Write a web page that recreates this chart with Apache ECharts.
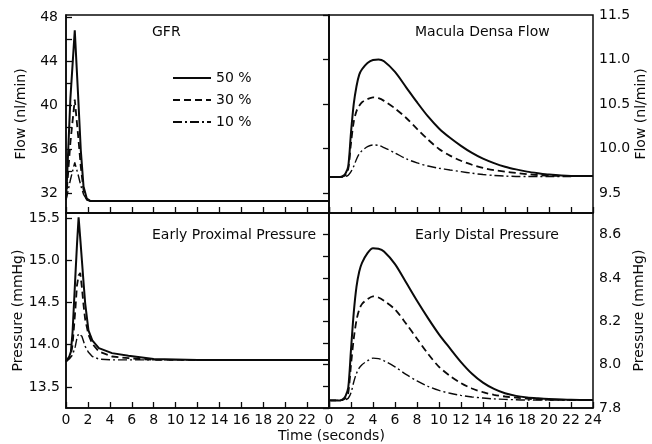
<!DOCTYPE html>
<html>
<head>
<meta charset="utf-8">
<script src="https://cdn.jsdelivr.net/npm/echarts@6/dist/echarts.min.js"></script>
<style>
  html, body { margin: 0; padding: 0; background: #fff; }
  #chart { width: 652px; height: 444px; }
</style>
</head>
<body>
<div id="chart"></div>
<script>
// Tubular response to a brief rise in filtration, for three perturbation sizes.
var seriesNames = ['50 %', '30 %', '10 %'];

// GFR (nl/min)
var gfrTime = [0, 0.1, 0.4, 0.8, 1.1, 1.35, 1.6, 1.9, 2.2, 24];
var gfr50 = [31.4, 33.5, 40.6, 46.8, 41.0, 35.9, 32.6, 31.5, 31.3, 31.3];
var gfr30 = [31.4, 32.6, 36.6, 40.5, 37.3, 34.4, 32.3, 31.4, 31.3, 31.3];
var gfr10 = [31.4, 31.8, 33.2, 34.8, 33.7, 32.7, 31.9, 31.4, 31.3, 31.3];

// Macula densa flow (nl/min)
var mdTime = [0, 1.0, 1.25, 1.5, 1.75, 2.0, 2.25, 2.5, 2.75, 3.0, 3.5, 4.0, 4.5, 5, 6, 7, 8, 9, 10, 11, 12, 13, 14, 15, 16, 17, 18, 19, 20, 22, 24];
var md50 = [9.68, 9.68, 9.69, 9.72, 9.80, 10.18, 10.50, 10.70, 10.83, 10.89, 10.96, 10.995, 11.0, 10.98, 10.86, 10.69, 10.52, 10.36, 10.225, 10.12, 10.03, 9.95, 9.885, 9.835, 9.795, 9.765, 9.74, 9.722, 9.707, 9.692, 9.69];
var md30 = [9.68, 9.68, 9.685, 9.70, 9.77, 10.06, 10.30, 10.42, 10.48, 10.52, 10.555, 10.575, 10.565, 10.535, 10.45, 10.345, 10.22, 10.10, 9.995, 9.92, 9.862, 9.817, 9.782, 9.757, 9.74, 9.725, 9.712, 9.702, 9.695, 9.69, 9.69];
var md10 = [9.68, 9.68, 9.68, 9.685, 9.70, 9.74, 9.80, 9.88, 9.94, 9.975, 10.02, 10.04, 10.035, 10.01, 9.95, 9.885, 9.838, 9.803, 9.778, 9.758, 9.74, 9.722, 9.707, 9.697, 9.69, 9.686, 9.685, 9.685, 9.685, 9.686, 9.69];

// Early proximal pressure (mmHg)
var epTime = [0, 0.3, 0.45, 0.6, 0.85, 1.0, 1.15, 1.3, 1.45, 1.6, 1.75, 2.05, 2.4, 3.0, 4.2, 5.7, 8, 12, 24];
var ep50 = [13.80, 13.86, 13.92, 14.15, 14.80, 15.18, 15.51, 15.26, 15.0, 14.74, 14.49, 14.17, 14.05, 13.96, 13.90, 13.87, 13.83, 13.82, 13.82];
var ep30 = [13.80, 13.85, 13.88, 14.0, 14.41, 14.70, 14.82, 14.85, 14.68, 14.47, 14.30, 14.12, 14.01, 13.92, 13.86, 13.84, 13.82, 13.82, 13.82];
var ep10 = [13.80, 13.83, 13.84, 13.88, 13.98, 14.08, 14.13, 14.14, 14.10, 14.04, 13.98, 13.91, 13.86, 13.83, 13.82, 13.82, 13.82, 13.82, 13.82];

// Early distal pressure (mmHg)
var edTime = mdTime;
var ed50 = [7.835, 7.835, 7.84, 7.855, 7.894, 8.07, 8.24, 8.36, 8.43, 8.47, 8.515, 8.537, 8.535, 8.522, 8.464, 8.38, 8.295, 8.215, 8.14, 8.075, 8.012, 7.958, 7.917, 7.888, 7.868, 7.856, 7.849, 7.845, 7.842, 7.838, 7.837];
var ed30 = [7.835, 7.835, 7.837, 7.845, 7.87, 8.0, 8.12, 8.205, 8.255, 8.28, 8.302, 8.315, 8.31, 8.295, 8.255, 8.19, 8.12, 8.05, 7.99, 7.948, 7.915, 7.89, 7.873, 7.861, 7.853, 7.848, 7.843, 7.84, 7.838, 7.837, 7.837];
var ed10 = [7.835, 7.835, 7.835, 7.838, 7.845, 7.87, 7.92, 7.96, 7.985, 8.0, 8.018, 8.03, 8.028, 8.018, 7.99, 7.955, 7.925, 7.90, 7.881, 7.868, 7.858, 7.851, 7.846, 7.842, 7.84, 7.838, 7.837, 7.837, 7.837, 7.837, 7.837];

// Tick positions and labels
var timeTicks = [0, 2, 4, 6, 8, 10, 12, 14, 16, 18, 20, 22, 24];
var timeLabelsLeft = [0, 2, 4, 6, 8, 10, 12, 14, 16, 18, 20, 22];
var gfrTicks = [32, 34, 36, 38, 40, 42, 44, 46, 48];
var gfrLabels = [32, 36, 40, 44, 48];
var mdTicks = [9.5, 10.0, 10.5, 11.0, 11.5];
var epTicks = [13.5, 14.0, 14.5, 15.0, 15.5];
var edTicks = [7.8, 7.9, 8.0, 8.1, 8.2, 8.3, 8.4, 8.5, 8.6];
var edLabels = [7.8, 8.0, 8.2, 8.4, 8.6];

var FONT = 'DejaVu Sans';
var INK = '#0a0a0a';

function pairs(t, v) {
  return t.map(function (x, i) { return [x, v[i]]; });
}

var lineStyles = [
  { type: 'solid', width: 2 },
  { type: [7, 4], width: 1.8 },
  { type: [9, 3, 2, 3], width: 1.4 }
];

var grids = [
  { left: 66, top: 15, width: 263, height: 198 },
  { left: 329, top: 15, width: 264, height: 198 },
  { left: 66, top: 213, width: 263, height: 195 },
  { left: 329, top: 213, width: 264, height: 195 }
].map(function (g) {
  g.show = true; g.borderColor = INK; g.borderWidth = 1.5; g.backgroundColor = 'transparent';
  return g;
});

function xAxis(gridIndex, labels) {
  return {
    type: 'value', gridIndex: gridIndex, min: 0, max: 24, interval: 2,
    axisLine: { show: true, lineStyle: { color: INK, width: 1.5 } },
    axisTick: { show: true, inside: true, length: 6, lineStyle: { color: INK, width: 1.3 }, customValues: timeTicks },
    axisLabel: labels ? { show: true, customValues: labels, color: INK, fontFamily: FONT, fontSize: 14, margin: 5 } : { show: false },
    splitLine: { show: false }
  };
}

function yAxis(gridIndex, opts) {
  return {
    type: 'value', gridIndex: gridIndex, min: opts.min, max: opts.max,
    position: opts.position,
    name: opts.name, nameLocation: 'middle', nameRotate: 90, nameGap: opts.nameGap,
    nameTextStyle: { color: INK, fontFamily: FONT, fontSize: 14 },
    axisLine: { show: true, lineStyle: { color: INK, width: 1.5 } },
    axisTick: { show: true, inside: true, length: 6, lineStyle: { color: INK, width: 1.3 }, customValues: opts.ticks },
    axisLabel: {
      show: true, customValues: opts.labels, color: INK, fontFamily: FONT, fontSize: 14, margin: opts.margin,
      formatter: opts.fmt
    },
    splitLine: { show: false }
  };
}

function oneDec(v) { return (Math.round(v * 10) / 10).toFixed(1); }

var panels = [
  { t: gfrTime, v: [gfr50, gfr30, gfr10] },
  { t: mdTime, v: [md50, md30, md10], smooth: 0.3 },
  { t: epTime, v: [ep50, ep30, ep10] },
  { t: edTime, v: [ed50, ed30, ed10], smooth: 0.3 }
];

var series = [];
panels.forEach(function (p, gi) {
  p.v.forEach(function (vals, k) {
    series.push({
      type: 'line', name: seriesNames[k], xAxisIndex: gi, yAxisIndex: gi,
      data: pairs(p.t, vals), symbol: 'none', showSymbol: false, smooth: p.smooth || false,
      lineStyle: { color: INK, type: lineStyles[k].type, width: lineStyles[k].width },
      itemStyle: { color: INK },
      z: 3 - k
    });
  });
});

var titleStyle = { color: INK, fontFamily: FONT, fontSize: 14, fontWeight: 'normal' };

var option = {
  animation: false,
  backgroundColor: '#fff',
  title: [
    { text: 'GFR', left: 147, top: 20, textStyle: titleStyle },
    { text: 'Macula Densa Flow', left: 410, top: 20, textStyle: titleStyle },
    { text: 'Early Proximal Pressure', left: 147, top: 223, textStyle: titleStyle },
    { text: 'Early Distal Pressure', left: 410, top: 223, textStyle: titleStyle },
    { text: 'Time (seconds)', left: 273, top: 424, textStyle: titleStyle }
  ],
  legend: {
    data: seriesNames, orient: 'vertical', left: 167, top: 66,
    itemWidth: 38, itemHeight: 14, itemGap: 8,
    itemStyle: { opacity: 0, borderWidth: 0 },
    textStyle: { color: INK, fontFamily: FONT, fontSize: 14 },
    selectedMode: false
  },
  grid: grids,
  xAxis: [xAxis(0, null), xAxis(1, null), xAxis(2, timeLabelsLeft), xAxis(3, timeTicks)],
  yAxis: [
    yAxis(0, { min: 30.2, max: 48.2, position: 'left', name: 'Flow (nl/min)', nameGap: 38, ticks: gfrTicks, labels: gfrLabels, margin: 8 }),
    yAxis(1, { min: 9.275, max: 11.5, position: 'right', name: 'Flow (nl/min)', nameGap: 39, ticks: mdTicks, labels: mdTicks, margin: 6, fmt: oneDec }),
    yAxis(2, { min: 13.25, max: 15.56, position: 'left', name: 'Pressure (mmHg)', nameGap: 36, ticks: epTicks, labels: epTicks, margin: 6, fmt: oneDec }),
    yAxis(3, { min: 7.8, max: 8.7, position: 'right', name: 'Pressure (mmHg)', nameGap: 39, ticks: edTicks, labels: edLabels, margin: 6, fmt: oneDec })
  ],
  series: series
};

var chart = echarts.init(document.getElementById('chart'), null, { renderer: 'canvas' });
chart.setOption(option);
</script>
</body>
</html>
